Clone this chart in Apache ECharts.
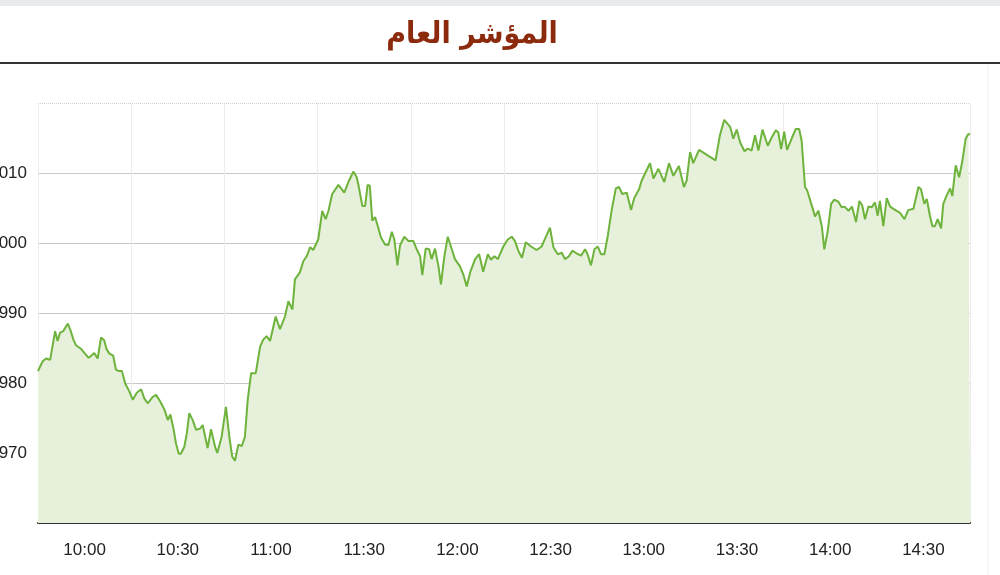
<!DOCTYPE html>
<html>
<head>
<meta charset="utf-8">
<script src="https://cdn.jsdelivr.net/npm/echarts@6/dist/echarts.min.js"></script>
<style>
  html, body { margin: 0; padding: 0; background: #ffffff; }
  #chart { width: 1000px; height: 575px; }
</style>
</head>
<body>
<div id="chart"></div>
<script>
const chartTitle = 'المؤشر العام';
const timeLabels = ['10:00','10:30','11:00','11:30','12:00','12:30','13:00','13:30','14:00','14:30'];
const yTicks = [970, 980, 990, 1000, 1010];
// minutes after 10:00
const minutes = [
  0, 1.5, 2.6, 3.9, 4.5, 5.5, 6.3, 7.1, 8.1, 9.6, 10.4, 11.4, 12.2, 13.8, 14.9, 16.3, 17.1, 18.1, 19.2, 20.3,
  21.3, 22.1, 23.0, 24.2, 25.1, 26.0, 27.0, 28.1, 29.4, 30.5, 31.8, 33.2, 34.2, 35.3, 36.9, 38.0, 39.3, 40.7, 41.8, 42.6,
  43.6, 44.4, 45.3, 46.0, 47.1, 47.9, 48.7, 49.8, 50.9, 52.2, 53.0, 54.6, 55.7, 57.0, 57.7, 59.1, 60.5, 61.6, 62.5, 63.4,
  64.5, 65.6, 66.6, 67.5, 68.6, 70.1, 71.5, 72.5, 73.6, 74.7, 76.5, 77.9, 79.5, 80.6, 81.9, 82.7, 84.3, 85.4, 86.5, 87.6,
  88.6, 90.2, 91.5, 92.6, 93.5, 94.7, 96.7, 98.6, 100.1, 101.5, 102.6, 103.1, 104.4, 105.3, 106.1, 106.8, 107.6, 108.5, 109.4, 110.4,
  111.7, 112.8, 113.9, 114.7, 115.7, 116.5, 117.9, 119.2, 120.8, 121.9, 123.0, 123.7, 124.8, 125.9, 126.7, 127.8, 128.9, 129.7, 130.8, 131.9,
  133.2, 134.2, 135.8, 136.9, 138.0, 139.1, 140.7, 142.0, 143.3, 144.8, 145.8, 146.9, 148.0, 149.8, 151.2, 152.5, 153.5, 154.7, 155.8, 157.0,
  158.7, 160.5, 162.1, 163.4, 164.8, 165.9, 167.3, 168.6, 169.6, 170.9, 172.0, 173.4, 174.8, 176.1, 176.9, 178.0, 179.1, 180.2, 181.2, 182.3,
  183.4, 184.7, 186.0, 187.0, 188.1, 189.5, 190.9, 191.9, 193.5, 194.3, 195.6, 197.0, 198.1, 199.7, 201.6, 203.1, 204.5, 206.3, 207.9, 208.8,
  209.9, 210.9, 212.8, 215.3, 218.1, 219.5, 220.9, 222.8, 223.8, 224.9, 226.0, 227.4, 228.5, 229.7, 230.8, 231.9, 233.2, 234.9, 236.2, 237.5,
  238.3, 239.2, 240.2, 241.1, 242.6, 243.9, 245.0, 245.8, 246.9, 247.6, 248.2, 249.1, 250.1, 251.2, 252.3, 253.1, 254.2, 255.3, 256.3, 257.6,
  258.7, 259.6, 260.9, 262.0, 263.3, 264.4, 265.3, 266.2, 267.3, 268.4, 269.4, 270.3, 271.0, 272.1, 273.2, 274.3, 275.6, 277.5, 278.9, 280.1,
  281.8, 283.4, 284.2, 285.3, 286.1, 287.1, 287.9, 288.7, 289.6, 290.7, 291.4, 292.5, 293.6, 294.3, 295.4, 296.5, 297.5, 298.6, 299.5, 300
];
const values = [
  981.7, 983.1, 983.5, 983.3, 984.8, 987.4, 986.0, 987.2, 987.4, 988.5, 987.6, 986.2, 985.4, 984.9, 984.3, 983.6, 983.9, 984.3, 983.5, 986.5,
  986.1, 984.8, 984.2, 983.9, 981.9, 981.7, 981.7, 979.9, 978.8, 977.6, 978.6, 979.1, 977.8, 977.1, 978.0, 978.3, 977.4, 976.2, 974.7, 975.5,
  973.5, 971.4, 969.9, 969.9, 970.9, 972.8, 975.7, 974.7, 973.3, 973.5, 974.0, 970.7, 973.4, 970.9, 970.0, 972.3, 976.6, 972.3, 969.5, 968.9,
  971.2, 971.0, 972.3, 977.6, 981.4, 981.4, 985.2, 986.2, 986.7, 986.0, 989.5, 987.7, 989.5, 991.7, 990.5, 994.8, 995.8, 997.4, 998.1, 999.4,
  999.0, 1000.5, 1004.6, 1003.4, 1004.6, 1007.0, 1008.3, 1007.2, 1008.9, 1010.2, 1009.4, 1008.4, 1005.3, 1005.3, 1008.3, 1008.2, 1003.2, 1003.7, 1002.4, 1000.8,
  999.8, 999.7, 1001.6, 1000.5, 996.8, 999.6, 1000.9, 1000.3, 1000.3, 999.1, 998.1, 995.4, 999.2, 999.1, 997.7, 999.2, 996.7, 994.1, 998.1, 1000.9,
  999.1, 997.7, 996.7, 995.5, 993.8, 995.8, 997.7, 998.4, 995.9, 998.4, 997.6, 998.1, 997.7, 999.5, 1000.5, 1000.9, 1000.3, 998.8, 997.9, 1000.1,
  999.5, 999.0, 999.5, 1000.8, 1002.2, 999.4, 998.4, 998.6, 997.7, 998.1, 998.9, 998.5, 998.2, 999.1, 998.4, 996.8, 999.1, 999.5, 998.4, 998.4,
  1001.0, 1004.8, 1007.8, 1008.0, 1007.0, 1007.2, 1004.7, 1006.4, 1007.7, 1008.9, 1010.1, 1011.4, 1009.2, 1010.6, 1008.7, 1011.4, 1009.6, 1011.0, 1008.0, 1008.9,
  1013.0, 1011.4, 1013.3, 1012.6, 1011.8, 1015.4, 1017.6, 1016.6, 1014.9, 1016.2, 1014.4, 1013.1, 1013.5, 1013.2, 1015.4, 1013.2, 1016.2, 1013.9, 1015.1, 1016.1,
  1015.8, 1013.4, 1015.9, 1013.3, 1014.9, 1016.3, 1016.3, 1014.6, 1008.0, 1007.5, 1007.7, 1005.3, 1003.8, 1004.6, 1002.4, 999.1, 1001.7, 1005.6, 1006.2, 1005.9,
  1005.1, 1005.2, 1004.6, 1005.2, 1003.0, 1006.0, 1005.4, 1003.4, 1005.2, 1005.1, 1005.8, 1003.9, 1006.0, 1002.4, 1006.4, 1005.2, 1004.8, 1004.3, 1003.4, 1004.7,
  1004.9, 1008.0, 1007.7, 1005.6, 1006.3, 1003.9, 1002.4, 1002.4, 1003.4, 1002.1, 1005.6, 1006.8, 1007.8, 1006.7, 1011.1, 1009.4, 1011.6, 1014.9, 1015.6, 1015.5
];

const seriesData = minutes.map((m, i) => [m, values[i]]);

const chart = echarts.init(document.getElementById('chart'), null, { renderer: 'canvas' });
chart.setOption({
  animation: false,
  backgroundColor: '#ffffff',
  grid: { left: 38, right: 30, top: 103, bottom: 52, containLabel: false, outerBoundsMode: 'none' },
  xAxis: [
    {
      type: 'category',
      data: timeLabels,
      boundaryGap: true,
      axisLine: { show: true, lineStyle: { color: '#333333', width: 2 } },
      axisTick: { show: false },
      axisLabel: { color: '#222222', fontSize: 17, margin: 19, fontFamily: 'Liberation Sans Narrow, Liberation Sans' },
      splitLine: { show: true, lineStyle: { color: '#ececec', width: 1 } }
    },
    { type: 'value', min: 0, max: 300, show: false }
  ],
  yAxis: {
    type: 'value',
    min: 960,
    max: 1020,
    interval: 10,
    axisLine: { show: false },
    axisTick: { show: false },
    axisLabel: {
      color: '#222222',
      fontSize: 17,
      margin: 11,
      fontFamily: 'Liberation Sans',
      formatter: v => (yTicks.includes(v) ? String(v) : '')
    },
    splitLine: {
      show: true,
      lineStyle: { color: ['rgba(0,0,0,0)', '#c8c8c8', '#c8c8c8', '#c8c8c8', '#c8c8c8', '#c8c8c8', 'rgba(0,0,0,0)'], width: 1 }
    }
  },
  series: [{
    type: 'line',
    xAxisIndex: 1,
    data: seriesData,
    showSymbol: false,
    smooth: false,
    lineStyle: { color: '#6db33c', width: 2 },
    areaStyle: { color: '#e6f0da', opacity: 1, origin: 'start' },
    z: 3,
    markLine: {
      silent: true,
      symbol: 'none',
      label: { show: false },
      lineStyle: { type: 'dotted', color: '#cfcfcf', width: 1 },
      data: [{ yAxis: 1020 }]
    }
  }],
  graphic: [
    { type: 'rect', shape: { x: 0, y: 0, width: 1000, height: 6 }, style: { fill: '#e8ebee' }, silent: true },
    { type: 'line', shape: { x1: 0, y1: 63, x2: 1000, y2: 63 }, style: { stroke: '#333333', lineWidth: 2 }, silent: true },
    { type: 'line', shape: { x1: 988, y1: 64, x2: 988, y2: 575 }, style: { stroke: '#eeeeee', lineWidth: 1 }, silent: true },
    {
      type: 'text', x: 472, y: 35, silent: true,
      style: {
        text: chartTitle,
        font: 'bold 30px "DejaVu Sans Condensed", "DejaVu Sans"',
        fill: '#8b2a0c',
        align: 'center',
        verticalAlign: 'middle'
      }
    }
  ]
});
</script>
</body>
</html>
